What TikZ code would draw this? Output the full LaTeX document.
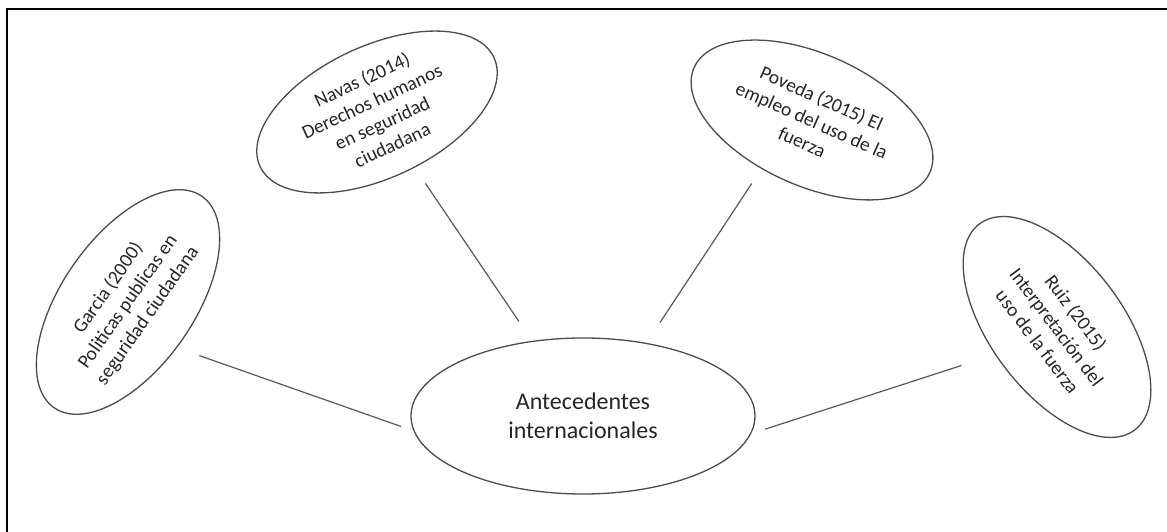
\documentclass[tikz,border=0pt]{standalone}
\usepackage{fontspec}
\setmainfont{Carlito}
\usetikzlibrary{shapes.geometric}
\begin{document}
\begin{tikzpicture}[x=1pt,y=1pt,
  bubble/.style={ellipse, draw=black!70, line width=1.3pt,
    minimum width=258pt, minimum height=132pt, inner sep=0pt,
    align=center, text=black!85, font=\fontsize{19.5}{24}\selectfont},
  hub/.style={ellipse, draw=black!70, line width=1.3pt,
    minimum width=344pt, minimum height=156pt, inner sep=0pt,
    align=center, text=black!85, font=\fontsize{24}{29.5}\selectfont},
  link/.style={draw=black!65, line width=1.2pt}]
\useasboundingbox (0,0) rectangle (1167,532);
\fill[white] (0,0) rectangle (1167,532);
% page frame: left and top rules
\draw[line width=2pt] (6.5,0) -- (6.5,522.5) -- (1167,522.5);

% central topic
\node[hub] (main) at (583,116) {Antecedentes\\internacionales};

% surrounding references
\node[bubble, rotate=55] (garcia) at (128,230)
  {Garcia (2000)\\Politicas publicas en\\seguridad ciudadana};
\node[bubble, rotate=25] (navas) at (377,420)
  {Navas (2014)\\Derechos humanos\\en seguridad\\ciudadana};
\node[bubble, rotate=-24] (poveda) at (812,412)
  {Poveda (2015) El\\empleo del uso de la\\fuerza};
\node[bubble, rotate=-53] (ruiz) at (1057,205)
  {Ruiz (2015)\\Interpretación del\\uso de la fuerza};

% connectors, kept clear of the outlines
\draw[link, shorten <=23.6pt, shorten >=13pt] (garcia.262) -- (main.185);
\draw[link, shorten <=19pt, shorten >=23.5pt] (navas) -- (main);
\draw[link, shorten <=17.6pt, shorten >=24.4pt] (poveda.248) -- (main.49);
\draw[link, shorten <=35.2pt, shorten >=14.6pt] (ruiz.257) -- (main.-6);
\end{tikzpicture}
\end{document}
